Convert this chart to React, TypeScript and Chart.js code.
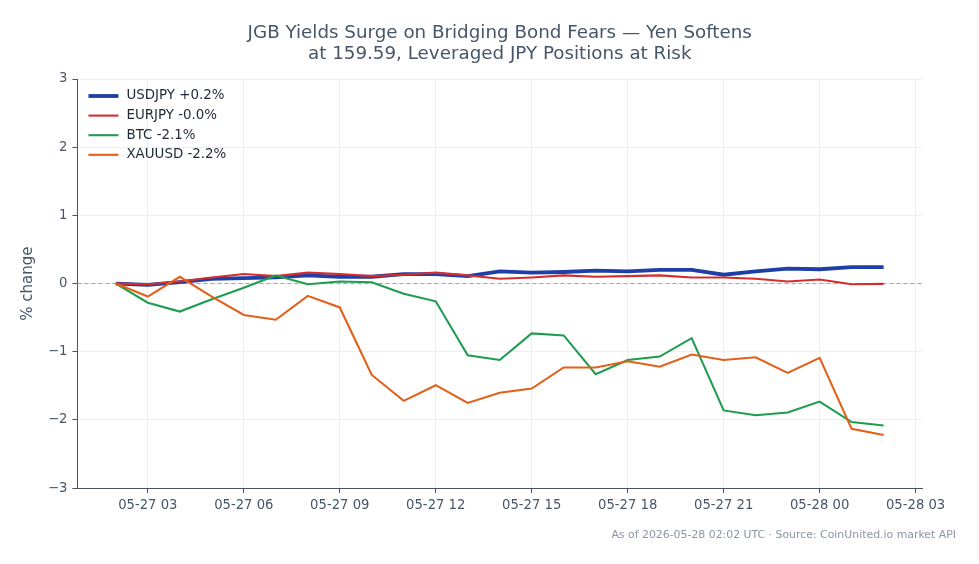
import React, { useEffect, useRef } from "react";
import { Chart, registerables } from "chart.js";

Chart.register(...registerables);

// Hourly observation times (UTC)
const timestamps = [
  "2026-05-27 02:00", "2026-05-27 03:00", "2026-05-27 04:00", "2026-05-27 05:00",
  "2026-05-27 06:00", "2026-05-27 07:00", "2026-05-27 08:00", "2026-05-27 09:00",
  "2026-05-27 10:00", "2026-05-27 11:00", "2026-05-27 12:00", "2026-05-27 13:00",
  "2026-05-27 14:00", "2026-05-27 15:00", "2026-05-27 16:00", "2026-05-27 17:00",
  "2026-05-27 18:00", "2026-05-27 19:00", "2026-05-27 20:00", "2026-05-27 21:00",
  "2026-05-27 22:00", "2026-05-27 23:00", "2026-05-28 00:00", "2026-05-28 01:00",
  "2026-05-28 02:00",
];

// Cumulative % change since the first observation
const usdjpy = [
  0, -0.02, 0.02, 0.07, 0.08, 0.09, 0.12, 0.1, 0.1, 0.14, 0.14, 0.11, 0.18,
  0.16, 0.17, 0.19, 0.18, 0.2, 0.2, 0.13, 0.18, 0.22, 0.21, 0.24, 0.24,
];
const eurjpy = [
  0, -0.01, 0.03, 0.09, 0.14, 0.11, 0.16, 0.14, 0.11, 0.13, 0.16, 0.12, 0.07,
  0.09, 0.12, 0.1, 0.11, 0.12, 0.09, 0.09, 0.07, 0.03, 0.06, -0.01, -0.005,
];
const btc = [
  0, -0.28, -0.41, -0.23, -0.06, 0.12, -0.01, 0.03, 0.02, -0.15, -0.26, -1.05,
  -1.12, -0.73, -0.76, -1.33, -1.12, -1.07, -0.8, -1.86, -1.93, -1.89, -1.73,
  -2.03, -2.08,
];
const xauusd = [
  0, -0.19, 0.1, -0.19, -0.46, -0.53, -0.18, -0.35, -1.34, -1.72, -1.49, -1.75,
  -1.6, -1.54, -1.23, -1.23, -1.14, -1.22, -1.04, -1.12, -1.08, -1.31, -1.09,
  -2.13, -2.22,
];

const seriesNames = ["USDJPY", "EURJPY", "BTC", "XAUUSD"];
const seriesValues = [usdjpy, eurjpy, btc, xauusd];
const seriesColors = ["#1e3fa8", "#d42d2d", "#1f9d4f", "#e2601a"];
const seriesWidths = [3.8, 2.1, 2.1, 2.1];

const yTicks = [-3, -2, -1, 0, 1, 2, 3];
const xTickHours = [3, 6, 9, 12, 15, 18, 21, 24, 27];

const titleLines = [
  "JGB Yields Surge on Bridging Bond Fears \u2014 Yen Softens",
  "at 159.59, Leveraged JPY Positions at Risk",
];
const footnote = "As of 2026-05-28 02:02 UTC \u00b7 Source: CoinUnited.io market API";

const FONT = "'DejaVu Sans', sans-serif";
const TICK_SIZE = 13.2;

// hours since 2026-05-27 00:00
const toHours = (ts: string) => {
  const [date, time] = ts.split(" ");
  const day = parseInt(date.slice(8, 10), 10);
  const [h, m] = time.split(":").map((v) => parseInt(v, 10));
  return (day - 27) * 24 + h + m / 60;
};

const fmtHour = (v: number) => {
  const day = 27 + Math.floor(v / 24);
  const hh = ((v % 24) + 24) % 24;
  return `05-${String(day).padStart(2, "0")} ${String(hh).padStart(2, "0")}`;
};

const signed = (v: number) => {
  const r = Math.round(v * 10) / 10;
  const s = Math.abs(r).toFixed(1);
  return (v >= 0 ? "+" : "-") + s;
};

const decorPlugin = {
  id: "decor",
  beforeDatasetsDraw(chart: any) {
    const { ctx, chartArea, scales } = chart;
    const y0 = scales.y.getPixelForValue(0);
    ctx.save();
    ctx.strokeStyle = "#94a3b8";
    ctx.lineWidth = 1;
    ctx.setLineDash([4, 3]);
    ctx.beginPath();
    ctx.moveTo(chartArea.left, y0);
    ctx.lineTo(chartArea.right, y0);
    ctx.stroke();
    ctx.restore();
  },
  afterDraw(chart: any) {
    const { ctx, chartArea } = chart;
    ctx.save();
    // title, centred over the plot area
    ctx.fillStyle = "#475569";
    ctx.font = `18.3px ${FONT}`;
    ctx.textAlign = "center";
    ctx.textBaseline = "middle";
    const cx = (chartArea.left + chartArea.right) / 2;
    titleLines.forEach((line, i) => ctx.fillText(line, cx, 33 + i * 21));

    // legend in the top-left corner of the plot
    ctx.font = `13.4px ${FONT}`;
    ctx.textAlign = "left";
    chart.data.datasets.forEach((ds: any, i: number) => {
      const y = chartArea.top + 17 + i * 19.6;
      const x = chartArea.left + 11;
      ctx.strokeStyle = ds.borderColor;
      ctx.lineWidth = ds.borderWidth;
      ctx.setLineDash([]);
      ctx.beginPath();
      ctx.moveTo(x, y);
      ctx.lineTo(x + 30, y);
      ctx.stroke();
      ctx.fillStyle = "#1f2937";
      ctx.fillText(ds.label, x + 38, y);
    });

    // source footnote
    ctx.font = `10.9px ${FONT}`;
    ctx.fillStyle = "#8b95a5";
    ctx.textAlign = "right";
    ctx.fillText(footnote, chart.width - 23, 535);
    ctx.restore();
  },
};

export default function App() {
  const canvasRef = useRef<HTMLCanvasElement | null>(null);

  useEffect(() => {
    document.body.style.margin = "0";
    const canvas = canvasRef.current;
    if (!canvas) return;
    const hours = timestamps.map(toHours);
    const chart = new Chart(canvas, {
      type: "line",
      data: {
        datasets: seriesNames.map((name, i) => {
          const vals = seriesValues[i];
          return {
            label: `${name} ${signed(vals[vals.length - 1])}%`,
            data: vals.map((v, j) => ({ x: hours[j], y: v })),
            borderColor: seriesColors[i],
            backgroundColor: seriesColors[i],
            borderWidth: seriesWidths[i],
            pointRadius: 0,
            tension: 0,
            order: 4 - i,
          };
        }),
      },
      plugins: [decorPlugin],
      options: {
        animation: false,
        responsive: false,
        layout: { padding: { left: 19, right: 57, top: 79, bottom: 47 } },
        plugins: {
          legend: { display: false },
          title: { display: false },
          tooltip: { enabled: false },
        },
        scales: {
          x: {
            type: "linear",
            min: hours[0] - 1.2,
            max: hours[hours.length - 1] + 1.2,
            afterBuildTicks: (scale: any) => {
              scale.ticks = xTickHours.map((v) => ({ value: v }));
            },
            ticks: {
              callback: (v: any) => fmtHour(Number(v)),
              color: "#475569",
              font: { family: FONT, size: TICK_SIZE },
              padding: 4,
              maxRotation: 0,
              autoSkip: false,
            },
            grid: {
              color: "#eceef1",
              tickColor: "#475569",
              tickLength: 5,
            },
            border: { color: "#475569", width: 1 },
          },
          y: {
            min: -3,
            max: 3,
            afterBuildTicks: (scale: any) => {
              scale.ticks = yTicks.map((v) => ({ value: v }));
            },
            ticks: {
              callback: (v: any) => String(v).replace("-", "\u2212"),
              color: "#475569",
              font: { family: FONT, size: TICK_SIZE },
              padding: 5,
            },
            grid: {
              color: "#eceef1",
              tickColor: "#475569",
              tickLength: 5,
            },
            border: { color: "#475569", width: 1 },
            title: {
              display: true,
              text: "% change",
              color: "#475569",
              font: { family: FONT, size: 15 },
              padding: { top: 0, bottom: 6 },
            },
          },
        },
      },
    } as any);
    return () => chart.destroy();
  }, []);

  return (
    <div style={{ width: 979, height: 564 }}>
      <canvas ref={canvasRef} width={979} height={564} style={{ display: "block" }} />
    </div>
  );
}
